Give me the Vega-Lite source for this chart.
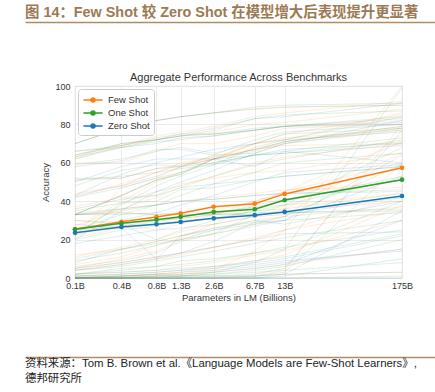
{
"$schema": "https://vega.github.io/schema/vega-lite/v6.json",
"padding": {"left": 25, "right": 0, "top": 4, "bottom": 0},
"background": "white",
"spacing": 49,
"resolve": {"scale": {"color": "independent", "stroke": "independent"}, "legend": {"color": "independent", "stroke": "independent"}},
"config": {
  "font": "Liberation Sans, Noto Sans CJK SC",
  "view": {"stroke": "#d6d6d6", "strokeWidth": 0.8},
  "axis": {"labelFont": "Liberation Sans", "labelFontSize": 9, "labelColor": "#333333", "titleFont": "Liberation Sans", "titleFontSize": 9.5, "titleFontWeight": "normal", "titleColor": "#333333", "domain": false, "ticks": false, "gridColor": "#e6e6e6", "gridWidth": 0.8, "labelOverlap": false},
  "axisY": {"labelOverlap": false},
  "axisX": {"labelOverlap": false}
},
"datasets": {
"main": [
{"s":"Few Shot","p":0.125,"acc":25.4},{"s":"Few Shot","p":0.35,"acc":29.3},{"s":"Few Shot","p":0.76,"acc":31.8},{"s":"Few Shot","p":1.3,"acc":33.7},{"s":"Few Shot","p":2.7,"acc":37.1},{"s":"Few Shot","p":6.7,"acc":38.7},{"s":"Few Shot","p":13,"acc":43.8},{"s":"Few Shot","p":175,"acc":57.4},
{"s":"One Shot","p":0.125,"acc":25.4},{"s":"One Shot","p":0.35,"acc":28.5},{"s":"One Shot","p":0.76,"acc":30.4},{"s":"One Shot","p":1.3,"acc":31.9},{"s":"One Shot","p":2.7,"acc":34.4},{"s":"One Shot","p":6.7,"acc":35.8},{"s":"One Shot","p":13,"acc":40.6},{"s":"One Shot","p":175,"acc":51.2},
{"s":"Zero Shot","p":0.125,"acc":23.6},{"s":"Zero Shot","p":0.35,"acc":26.6},{"s":"Zero Shot","p":0.76,"acc":28.0},{"s":"Zero Shot","p":1.3,"acc":29.2},{"s":"Zero Shot","p":2.7,"acc":31.1},{"s":"Zero Shot","p":6.7,"acc":32.7},{"s":"Zero Shot","p":13,"acc":34.4},{"s":"Zero Shot","p":175,"acc":42.7}
],
"bg": [
{"b":1,"p":0.125,"z":64,"o":63,"f":64},{"b":1,"p":0.35,"z":70,"o":70,"f":69},{"b":1,"p":0.76,"z":72,"o":72,"f":72},{"b":1,"p":1.3,"z":75,"o":74,"f":74},{"b":1,"p":2.7,"z":75,"o":75,"f":75},{"b":1,"p":6.7,"z":78,"o":77,"f":77},{"b":1,"p":13,"z":79,"o":79,"f":79},{"b":1,"p":175,"z":81,"o":80,"f":82},
{"b":2,"p":0.125,"z":33,"o":33,"f":33},{"b":2,"p":0.35,"z":43,"o":43,"f":43},{"b":2,"p":0.76,"z":51,"o":51,"f":51},{"b":2,"p":1.3,"z":54,"o":54,"f":55},{"b":2,"p":2.7,"z":62,"o":62,"f":62},{"b":2,"p":6.7,"z":67,"o":66,"f":67},{"b":2,"p":13,"z":71,"o":71,"f":71},{"b":2,"p":175,"z":79,"o":78,"f":79},
{"b":3,"p":0.125,"z":43,"o":22,"f":22},{"b":3,"p":0.35,"z":54,"o":39,"f":47},{"b":3,"p":0.76,"z":60,"o":45,"f":52},{"b":3,"p":1.3,"z":63,"o":48,"f":58},{"b":3,"p":2.7,"z":67,"o":53,"f":62},{"b":3,"p":6.7,"z":70,"o":59,"f":70},{"b":3,"p":13,"z":72,"o":62,"f":72},{"b":3,"p":175,"z":76,"o":72,"f":86},
{"b":4,"p":0.125,"z":63,"o":62,"f":62},{"b":4,"p":0.35,"z":68,"o":68,"f":69},{"b":4,"p":0.76,"z":70,"o":71,"f":72},{"b":4,"p":1.3,"z":73,"o":72,"f":74},{"b":4,"p":2.7,"z":74,"o":74,"f":76},{"b":4,"p":6.7,"z":77,"o":77,"f":80},{"b":4,"p":13,"z":79,"o":79,"f":81},{"b":4,"p":175,"z":83,"o":84,"f":88},
{"b":5,"p":0.125,"z":52,"o":51,"f":51},{"b":5,"p":0.35,"z":52,"o":53,"f":52},{"b":5,"p":0.76,"z":57,"o":55,"f":57},{"b":5,"p":1.3,"z":58,"o":57,"f":59},{"b":5,"p":2.7,"z":62,"o":59,"f":63},{"b":5,"p":6.7,"z":64,"o":64,"f":67},{"b":5,"p":13,"z":67,"o":66,"f":70},{"b":5,"p":175,"z":70,"o":73,"f":78},
{"b":6,"p":0.125,"z":43,"o":42,"f":42},{"b":6,"p":0.35,"z":48,"o":47,"f":49},{"b":6,"p":0.76,"z":53,"o":52,"f":55},{"b":6,"p":1.3,"z":58,"o":55,"f":59},{"b":6,"p":2.7,"z":60,"o":60,"f":62},{"b":6,"p":6.7,"z":64,"o":64,"f":67},{"b":6,"p":13,"z":65,"o":65,"f":69},{"b":6,"p":175,"z":69,"o":71,"f":70},
{"b":7,"p":0.125,"z":26,"o":25,"f":25},{"b":7,"p":0.35,"z":28,"o":27,"f":27},{"b":7,"p":0.76,"z":30,"o":29,"f":30},{"b":7,"p":1.3,"z":31,"o":32,"f":31},{"b":7,"p":2.7,"z":33,"o":34,"f":35},{"b":7,"p":6.7,"z":38,"o":37,"f":40},{"b":7,"p":13,"z":41,"o":40,"f":44},{"b":7,"p":175,"z":51,"o":53,"f":51},
{"b":8,"p":0.125,"z":36,"o":35,"f":37},{"b":8,"p":0.35,"z":41,"o":39,"f":42},{"b":8,"p":0.76,"z":43,"o":40,"f":43},{"b":8,"p":1.3,"z":47,"o":46,"f":49},{"b":8,"p":2.7,"z":49,"o":47,"f":52},{"b":8,"p":6.7,"z":51,"o":51,"f":55},{"b":8,"p":13,"z":53,"o":53,"f":56},{"b":8,"p":175,"z":58,"o":58,"f":65},
{"b":9,"p":0.125,"z":50,"o":48,"f":44},{"b":9,"p":0.35,"z":58,"o":56,"f":48},{"b":9,"p":0.76,"z":62,"o":59,"f":55},{"b":9,"p":1.3,"z":62,"o":58,"f":60},{"b":9,"p":2.7,"z":62,"o":64,"f":63},{"b":9,"p":6.7,"z":58,"o":65,"f":70},{"b":9,"p":13,"z":66,"o":70,"f":73},{"b":9,"p":175,"z":60,"o":77,"f":77},
{"b":10,"p":0.125,"z":4,"o":6,"f":7},{"b":10,"p":0.35,"z":7,"o":9,"f":11},{"b":10,"p":0.76,"z":10,"o":13,"f":17},{"b":10,"p":1.3,"z":13,"o":19,"f":21},{"b":10,"p":2.7,"z":19,"o":23,"f":28},{"b":10,"p":6.7,"z":29,"o":33,"f":38},{"b":10,"p":13,"z":30,"o":38,"f":45},{"b":10,"p":175,"z":64,"o":68,"f":71},
{"b":11,"p":0.125,"z":1,"o":1,"f":2},{"b":11,"p":0.35,"z":1,"o":2,"f":3},{"b":11,"p":0.76,"z":2,"o":3,"f":4},{"b":11,"p":1.3,"z":3,"o":4,"f":6},{"b":11,"p":2.7,"z":4,"o":6,"f":8},{"b":11,"p":6.7,"z":6,"o":9,"f":12},{"b":11,"p":13,"z":8,"o":11,"f":14},{"b":11,"p":175,"z":15,"o":23,"f":30},
{"b":12,"p":0.125,"z":1,"o":2,"f":4},{"b":12,"p":0.35,"z":2,"o":4,"f":7},{"b":12,"p":0.76,"z":3,"o":6,"f":10},{"b":12,"p":1.3,"z":4,"o":7,"f":12},{"b":12,"p":2.7,"z":5,"o":9,"f":16},{"b":12,"p":6.7,"z":7,"o":13,"f":20},{"b":12,"p":13,"z":9,"o":16,"f":25},{"b":12,"p":175,"z":14,"o":25,"f":42},
{"b":13,"p":0.125,"z":0,"o":0,"f":0},{"b":13,"p":0.35,"z":0,"o":0,"f":0},{"b":13,"p":0.76,"z":0,"o":1,"f":1},{"b":13,"p":1.3,"z":0,"o":1,"f":2},{"b":13,"p":2.7,"z":1,"o":3,"f":4},{"b":13,"p":6.7,"z":2,"o":8,"f":14},{"b":13,"p":13,"z":5,"o":15,"f":25},{"b":13,"p":175,"z":77,"o":99,"f":100},
{"b":14,"p":0.125,"z":0,"o":0,"f":0},{"b":14,"p":0.35,"z":0,"o":0,"f":0},{"b":14,"p":0.76,"z":0,"o":0,"f":0},{"b":14,"p":1.3,"z":0,"o":0,"f":0},{"b":14,"p":2.7,"z":0,"o":0,"f":0},{"b":14,"p":6.7,"z":0,"o":1,"f":1},{"b":14,"p":13,"z":2,"o":3,"f":4},{"b":14,"p":175,"z":35,"o":60,"f":80},
{"b":15,"p":0.125,"z":20,"o":23,"f":25},{"b":15,"p":0.35,"z":35,"o":38,"f":40},{"b":15,"p":0.76,"z":45,"o":48,"f":50},{"b":15,"p":1.3,"z":50,"o":53,"f":55},{"b":15,"p":2.7,"z":56,"o":59,"f":62},{"b":15,"p":6.7,"z":65,"o":68,"f":70},{"b":15,"p":13,"z":70,"o":72,"f":75},{"b":15,"p":175,"z":82,"o":84,"f":85},
{"b":16,"p":0.125,"z":5,"o":9,"f":12},{"b":16,"p":0.35,"z":8,"o":13,"f":15},{"b":16,"p":0.76,"z":11,"o":17,"f":19},{"b":16,"p":1.3,"z":13,"o":20,"f":22},{"b":16,"p":2.7,"z":16,"o":23,"f":26},{"b":16,"p":6.7,"z":20,"o":27,"f":30},{"b":16,"p":13,"z":23,"o":30,"f":32},{"b":16,"p":175,"z":24,"o":34,"f":37},
{"b":17,"p":0.125,"z":18,"o":20,"f":21},{"b":17,"p":0.35,"z":22,"o":25,"f":26},{"b":17,"p":0.76,"z":25,"o":27,"f":28},{"b":17,"p":1.3,"z":26,"o":30,"f":31},{"b":17,"p":2.7,"z":28,"o":31,"f":33},{"b":17,"p":6.7,"z":32,"o":35,"f":37},{"b":17,"p":13,"z":33,"o":36,"f":38},{"b":17,"p":175,"z":42,"o":44,"f":44},
{"b":18,"p":0.125,"z":22,"o":25,"f":27},{"b":18,"p":0.35,"z":30,"o":33,"f":36},{"b":18,"p":0.76,"z":34,"o":38,"f":42},{"b":18,"p":1.3,"z":38,"o":43,"f":47},{"b":18,"p":2.7,"z":43,"o":49,"f":53},{"b":18,"p":6.7,"z":50,"o":55,"f":60},{"b":18,"p":13,"z":55,"o":60,"f":63},{"b":18,"p":175,"z":59,"o":65,"f":70},
{"b":19,"p":0.125,"z":33,"o":33,"f":34},{"b":19,"p":0.35,"z":36,"o":35,"f":36},{"b":19,"p":0.76,"z":38,"o":38,"f":38},{"b":19,"p":1.3,"z":40,"o":40,"f":40},{"b":19,"p":2.7,"z":41,"o":41,"f":42},{"b":19,"p":6.7,"z":43,"o":43,"f":44},{"b":19,"p":13,"z":44,"o":44,"f":46},{"b":19,"p":175,"z":45,"o":46,"f":47},
{"b":20,"p":0.125,"z":0,"o":2,"f":5},{"b":20,"p":0.35,"z":1,"o":5,"f":10},{"b":20,"p":0.76,"z":2,"o":6,"f":14},{"b":20,"p":1.3,"z":2,"o":9,"f":20},{"b":20,"p":2.7,"z":3,"o":10,"f":23},{"b":20,"p":6.7,"z":5,"o":13,"f":28},{"b":20,"p":13,"z":7,"o":15,"f":32},{"b":20,"p":175,"z":30,"o":40,"f":75},
{"b":21,"p":0.125,"z":0,"o":0,"f":0},{"b":21,"p":0.35,"z":0,"o":0,"f":1},{"b":21,"p":0.76,"z":0,"o":1,"f":2},{"b":21,"p":1.3,"z":0,"o":1,"f":3},{"b":21,"p":2.7,"z":0,"o":2,"f":5},{"b":21,"p":6.7,"z":0,"o":4,"f":9},{"b":21,"p":13,"z":1,"o":6,"f":12},{"b":21,"p":175,"z":10,"o":20,"f":38},
{"b":22,"p":0.125,"z":33,"o":33,"f":33},{"b":22,"p":0.35,"z":34,"o":33,"f":34},{"b":22,"p":0.76,"z":33,"o":34,"f":33},{"b":22,"p":1.3,"z":33,"o":33,"f":34},{"b":22,"p":2.7,"z":33,"o":33,"f":34},{"b":22,"p":6.7,"z":33,"o":34,"f":33},{"b":22,"p":13,"z":34,"o":34,"f":35},{"b":22,"p":175,"z":35,"o":36,"f":40},
{"b":23,"p":0.125,"z":2,"o":4,"f":5},{"b":23,"p":0.35,"z":3,"o":6,"f":8},{"b":23,"p":0.76,"z":4,"o":9,"f":11},{"b":23,"p":1.3,"z":5,"o":11,"f":13},{"b":23,"p":2.7,"z":6,"o":14,"f":16},{"b":23,"p":6.7,"z":8,"o":18,"f":21},{"b":23,"p":13,"z":10,"o":21,"f":25},{"b":23,"p":175,"z":22,"o":30,"f":35},
{"b":24,"p":0.125,"z":58,"o":59,"f":60},{"b":24,"p":0.35,"z":61,"o":62,"f":60},{"b":24,"p":0.76,"z":67,"o":66,"f":66},{"b":24,"p":1.3,"z":67,"o":68,"f":70},{"b":24,"p":2.7,"z":64,"o":65,"f":70},{"b":24,"p":6.7,"z":72,"o":70,"f":74},{"b":24,"p":13,"z":76,"o":75,"f":78},{"b":24,"p":175,"z":80,"o":78,"f":80},
{"b":25,"p":0.125,"z":66,"o":66,"f":64},{"b":25,"p":0.35,"z":69,"o":68,"f":69},{"b":25,"p":0.76,"z":73,"o":72,"f":74},{"b":25,"p":1.3,"z":75,"o":74,"f":76},{"b":25,"p":2.7,"z":78,"o":77,"f":79},{"b":25,"p":6.7,"z":83,"o":83,"f":84},{"b":25,"p":13,"z":84,"o":85,"f":86},{"b":25,"p":175,"z":91,"o":87,"f":92},
{"b":26,"p":0.125,"z":70,"o":70,"f":70},{"b":26,"p":0.35,"z":78,"o":78,"f":78},{"b":26,"p":0.76,"z":82,"o":82,"f":82},{"b":26,"p":1.3,"z":84,"o":84,"f":84},{"b":26,"p":2.7,"z":86,"o":86,"f":86},{"b":26,"p":6.7,"z":89,"o":88,"f":88},{"b":26,"p":13,"z":90,"o":89,"f":89},{"b":26,"p":175,"z":91,"o":90,"f":90},
{"b":27,"p":0.125,"z":8,"o":10,"f":11},{"b":27,"p":0.35,"z":15,"o":15,"f":16},{"b":27,"p":0.76,"z":18,"o":19,"f":20},{"b":27,"p":1.3,"z":20,"o":22,"f":24},{"b":27,"p":2.7,"z":25,"o":26,"f":28},{"b":27,"p":6.7,"z":28,"o":29,"f":32},{"b":27,"p":13,"z":30,"o":32,"f":36},{"b":27,"p":175,"z":53,"o":59,"f":65},
{"b":28,"p":0.125,"z":0,"o":0,"f":0},{"b":28,"p":0.35,"z":0,"o":1,"f":1},{"b":28,"p":0.76,"z":0,"o":1,"f":2},{"b":28,"p":1.3,"z":1,"o":1,"f":2},{"b":28,"p":2.7,"z":1,"o":2,"f":3},{"b":28,"p":6.7,"z":1,"o":3,"f":5},{"b":28,"p":13,"z":2,"o":4,"f":7},{"b":28,"p":175,"z":3,"o":8,"f":15},
{"b":29,"p":0.125,"z":0,"o":0,"f":1},{"b":29,"p":0.35,"z":0,"o":0,"f":1},{"b":29,"p":0.76,"z":0,"o":0,"f":1},{"b":29,"p":1.3,"z":0,"o":0,"f":1},{"b":29,"p":2.7,"z":0,"o":0,"f":1},{"b":29,"p":6.7,"z":0,"o":0,"f":1},{"b":29,"p":13,"z":0,"o":0,"f":2},{"b":29,"p":175,"z":0,"o":1,"f":3},
{"b":30,"p":0.125,"z":28,"o":30,"f":30},{"b":30,"p":0.35,"z":26,"o":28,"f":29},{"b":30,"p":0.76,"z":10,"o":20,"f":25},{"b":30,"p":1.3,"z":22,"o":25,"f":28},{"b":30,"p":2.7,"z":25,"o":30,"f":33},{"b":30,"p":6.7,"z":30,"o":35,"f":40},{"b":30,"p":13,"z":28,"o":38,"f":45},{"b":30,"p":175,"z":40,"o":52,"f":60}
]
},
"vconcat": [
  {
    "title": {"text": "图 14：Few Shot 较 Zero Shot 在模型增大后表现提升更显著", "anchor": "start", "frame": "group", "dx": -50, "fontSize": 14.4, "fontWeight": "bold", "color": "#9c7a54", "offset": 1, "font": "Liberation Sans, Noto Sans CJK SC"},
    "width": 360,
    "height": 1,
    "view": {"stroke": null},
    "data": {"values": [{}]},
    "mark": {"type": "point", "opacity": 0, "size": 1},
    "encoding": {"x": {"datum": 0.5, "type": "quantitative", "scale": {"domain": [0, 1], "range": [-50, 360]},
      "axis": {"orient": "bottom", "domain": true, "domainColor": "#b08b64", "domainWidth": 1.5, "labels": false, "ticks": false, "grid": false, "title": null}}}
  },
  {
    "title": {"text": "Aggregate Performance Across Benchmarks", "anchor": "middle", "frame": "group", "fontSize": 11, "fontWeight": "normal", "color": "#333333", "offset": -1, "font": "Liberation Sans"},
    "width": 327,
    "height": 192,
    "layer": [
      {
        "data": {"name": "bg"},
        "transform": [{"fold": ["f", "o", "z"], "as": ["k", "acc"]}],
        "mark": {"type": "line", "strokeWidth": 1, "opacity": 0.15},
        "encoding": {
          "x": {"field": "p", "type": "quantitative", "scale": {"type": "log", "domain": [0.125, 175], "nice": false},
                "axis": {"values": [0.125, 0.35, 0.76, 1.3, 2.7, 6.7, 13, 175], "labelExpr": "datum.value == 0.125 ? '0.1B' : datum.value == 0.35 ? '0.4B' : datum.value == 0.76 ? '0.8B' : datum.value == 1.3 ? '1.3B' : datum.value == 2.7 ? '2.6B' : datum.value == 6.7 ? '6.7B' : datum.value == 13 ? '13B' : '175B'", "labelFlush": false, "labelOverlap": false, "labelPadding": 3, "titlePadding": 2, "grid": true},
                "title": "Parameters in LM (Billions)"},
          "y": {"field": "acc", "type": "quantitative", "scale": {"domain": [0, 100], "nice": false},
                "axis": {"values": [0, 20, 40, 60, 80, 100], "labelOverlap": false, "labelPadding": 5, "titlePadding": 4, "grid": true},
                "title": "Accuracy"},
          "stroke": {"field": "k", "type": "nominal", "scale": {"domain": ["f", "o", "z"], "range": ["#ff7f0e", "#2ca02c", "#1f77b4"]}, "legend": null},
          "detail": {"field": "b", "type": "nominal"}
        }
      },
      {
        "data": {"name": "main"},
        "mark": {"type": "line", "strokeWidth": 1.5, "point": {"filled": true, "size": 22}},
        "encoding": {
          "x": {"field": "p", "type": "quantitative", "title": "Parameters in LM (Billions)",
                "axis": {"values": [0.125, 0.35, 0.76, 1.3, 2.7, 6.7, 13, 175], "labelExpr": "datum.value == 0.125 ? '0.1B' : datum.value == 0.35 ? '0.4B' : datum.value == 0.76 ? '0.8B' : datum.value == 1.3 ? '1.3B' : datum.value == 2.7 ? '2.6B' : datum.value == 6.7 ? '6.7B' : datum.value == 13 ? '13B' : '175B'", "labelFlush": false, "labelOverlap": false, "labelPadding": 3, "titlePadding": 2, "grid": true}},
          "y": {"field": "acc", "type": "quantitative", "title": "Accuracy",
                "axis": {"values": [0, 20, 40, 60, 80, 100], "labelOverlap": false, "labelPadding": 5, "titlePadding": 4, "grid": true}},
          "color": {"field": "s", "type": "nominal", "scale": {"domain": ["Few Shot", "One Shot", "Zero Shot"], "range": ["#ff7f0e", "#2ca02c", "#1f77b4"]},
            "legend": {"orient": "top-left", "offset": 3, "title": null, "fillColor": "white", "strokeColor": "#cccccc", "cornerRadius": 3, "padding": 4, "labelFont": "Liberation Sans", "labelFontSize": 9.5, "labelColor": "#333333", "symbolType": "M-1.6,0H1.6M-0.35,0A0.35,0.35 0 1 1 0.35,0A0.35,0.35 0 1 1 -0.35,0", "symbolSize": 144, "symbolOffset": 4, "symbolStrokeWidth": 1.3, "rowPadding": 1, "labelOffset": 8,
              "encode": {"symbols": {"update": {"fill": [{"test": "datum.value === 'Few Shot'", "value": "#ff7f0e"}, {"test": "datum.value === 'One Shot'", "value": "#2ca02c"}, {"value": "#1f77b4"}], "opacity": {"value": 1}}}}}}
        }
      }
    ]
  },
  {
    "title": {"text": ["资料来源：Tom B. Brown et al.《Language Models are Few-Shot Learners》,", "德邦研究所"], "orient": "bottom", "anchor": "start", "frame": "group", "dx": -50, "fontSize": 11.4, "fontWeight": "normal", "color": "#222222", "offset": 1, "lineHeight": 15, "font": "Liberation Sans, Noto Sans CJK SC"},
    "width": 360,
    "height": 6,
    "view": {"stroke": null},
    "data": {"values": [{}]},
    "mark": {"type": "point", "opacity": 0, "size": 1},
    "encoding": {"x": {"datum": 0.5, "type": "quantitative", "scale": {"domain": [0, 1], "range": [-50, 360]},
      "axis": {"orient": "bottom", "domain": true, "domainColor": "#b08b64", "domainWidth": 1.5, "labels": false, "ticks": false, "grid": false, "title": null}}}
  }
]
}
